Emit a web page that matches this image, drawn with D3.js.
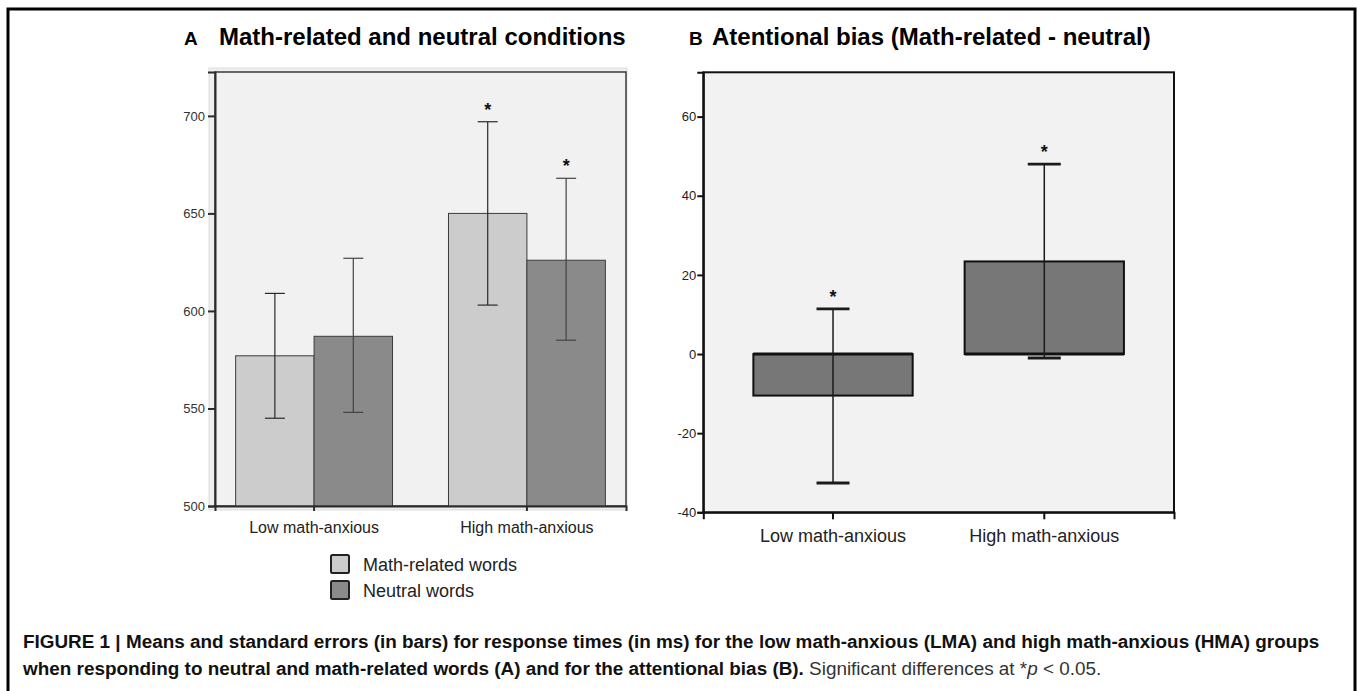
<!DOCTYPE html>
<html>
<head>
<meta charset="utf-8">
<script src="https://cdn.jsdelivr.net/npm/d3@7"></script>
<style>
  html, body { margin: 0; padding: 0; background: #fff; }
  svg { display: block; font-family: "Liberation Sans", Arial, Helvetica, sans-serif; }
</style>
</head>
<body>
<svg id="fig" width="1357" height="691"></svg>
<script>
// ---------------- DATA ----------------
const groups = ["Low math-anxious", "High math-anxious"];
const conditions = ["Math-related words", "Neutral words"];

const mathMeans = [577, 650];
const mathErrLow = [545, 603];
const mathErrHigh = [609, 697];
const mathSig = [false, true];

const neutralMeans = [587, 626];
const neutralErrLow = [548, 585];
const neutralErrHigh = [627, 668];
const neutralSig = [false, true];

const biasMeans = [-10.5, 23.4];
const biasErrLow = [-32.6, -1];
const biasErrHigh = [11.4, 48];
const biasSig = [true, true];

const yTicksA = [500, 550, 600, 650, 700];
const yTicksB = [-40, -20, 0, 20, 40, 60];

const titleA = "Math-related and neutral conditions";
const titleB = "Atentional bias (Math-related - neutral)";

// ---------------- SETUP ----------------
const svg = d3.select("#fig");
const FONT = '"Liberation Sans", Arial, Helvetica, sans-serif';
const condColor = d3.scaleOrdinal().domain(conditions).range(["#cbcccb", "#8a8a8a"]);
const plainFmt = d => String(d);

// outer figure frame
svg.append("path")
  .attr("d", "M8,700 V9 H1355 V700")
  .attr("fill", "none").attr("stroke", "#000").attr("stroke-width", 3);

// ---------------- PANEL A ----------------
const A = { left: 215, right: 626, top: 72, bottom: 506 };
const yA = d3.scaleLinear().domain([500, 722.5]).range([A.bottom, A.top]);
const xA = d3.scaleBand().domain(groups).range([A.left, A.right]).paddingInner(0.263).paddingOuter(0.097);
const xAsub = d3.scaleBand().domain(conditions).range([0, xA.bandwidth()]);

const gA = svg.append("g");
gA.append("rect").attr("x", A.left - 6).attr("y", A.top - 4)
  .attr("width", A.right - A.left + 7).attr("height", A.bottom - A.top + 8)
  .attr("fill", "#eeeeee").attr("stroke", "#dddddd").attr("stroke-width", 1);
gA.append("rect").attr("x", A.left).attr("y", A.top)
  .attr("width", A.right - A.left).attr("height", A.bottom - A.top)
  .attr("fill", "#f1f1f1").attr("stroke", "#3a3a3a").attr("stroke-width", 1.5);

const seriesA = [
  { cond: conditions[0], means: mathMeans, lo: mathErrLow, hi: mathErrHigh, sig: mathSig },
  { cond: conditions[1], means: neutralMeans, lo: neutralErrLow, hi: neutralErrHigh, sig: neutralSig }
];
const recsA = [];
seriesA.forEach(s => groups.forEach((g, i) => recsA.push({
  group: g, cond: s.cond, mean: s.means[i], lo: s.lo[i], hi: s.hi[i], sig: s.sig[i]
})));

gA.selectAll("rect.bar").data(recsA).join("rect")
  .attr("class", "bar")
  .attr("x", d => xA(d.group) + xAsub(d.cond))
  .attr("y", d => yA(d.mean))
  .attr("width", xAsub.bandwidth())
  .attr("height", d => yA(500) - yA(d.mean))
  .attr("fill", d => condColor(d.cond))
  .attr("stroke", "#3c3c3c").attr("stroke-width", 1);

const errA = gA.selectAll("g.err").data(recsA).join("g").attr("class", "err")
  .attr("stroke", d => d.cond === conditions[1] ? "#444" : "#2a2a2a").attr("stroke-width", 1.2);
const cxA = d => xA(d.group) + xAsub(d.cond) + xAsub.bandwidth() / 2;
errA.append("line").attr("x1", cxA).attr("x2", cxA).attr("y1", d => yA(d.lo)).attr("y2", d => yA(d.hi));
errA.append("line").attr("x1", d => cxA(d) - 10).attr("x2", d => cxA(d) + 10).attr("y1", d => yA(d.hi)).attr("y2", d => yA(d.hi));
errA.append("line").attr("x1", d => cxA(d) - 10).attr("x2", d => cxA(d) + 10).attr("y1", d => yA(d.lo)).attr("y2", d => yA(d.lo));

gA.selectAll("text.star").data(recsA.filter(d => d.sig)).join("text")
  .attr("class", "star")
  .attr("x", cxA).attr("y", d => yA(d.hi) - 6)
  .attr("text-anchor", "middle").attr("font-size", 18).attr("font-weight", "bold")
  .attr("fill", "#111").text("*");

const axisLA = gA.append("g").attr("transform", `translate(${A.left},0)`)
  .call(d3.axisLeft(yA).tickValues(yTicksA).tickFormat(plainFmt).tickSize(7).tickPadding(3));
axisLA.select(".domain").attr("stroke", "#2b2b2b").attr("stroke-width", 2);
axisLA.selectAll(".tick line").attr("stroke", "#2b2b2b").attr("stroke-width", 2);
axisLA.selectAll(".tick text").attr("font-size", 13).attr("font-family", FONT).attr("fill", "#333");

const axisBA = gA.append("g").attr("transform", `translate(0,${A.bottom})`)
  .call(d3.axisBottom(xA).tickSize(5).tickPadding(11));
axisBA.select(".domain").attr("stroke", "#2b2b2b").attr("stroke-width", 2);
axisBA.selectAll(".tick line").attr("stroke", "#2b2b2b").attr("stroke-width", 2);
axisBA.selectAll(".tick text").attr("font-size", 16).attr("font-family", FONT).attr("fill", "#222");

svg.append("text").attr("x", 184).attr("y", 45).attr("font-size", 19).attr("font-weight", "bold").text("A");
svg.append("text").attr("x", 219).attr("y", 45).attr("font-size", 24).attr("font-weight", "bold").text(titleA);

// legend
const leg = svg.append("g").attr("transform", "translate(330,554)");
conditions.forEach((c, i) => {
  const row = leg.append("g").attr("transform", `translate(0,${i * 26})`);
  row.append("rect").attr("x", 1).attr("y", 1).attr("width", 18).attr("height", 18).attr("rx", 1.5)
    .attr("fill", condColor(c)).attr("stroke", "#222").attr("stroke-width", 2);
  row.append("text").attr("x", 33).attr("y", 16.5).attr("font-size", 18).attr("fill", "#222").text(c);
});

// ---------------- PANEL B ----------------
const B = { left: 703.3, right: 1174, top: 72.3, bottom: 512.3 };
const yB = d3.scaleLinear().domain([-40, 71.2]).range([B.bottom, B.top]);
const xB = d3.scaleBand().domain(groups).range([B.left, B.right]).paddingInner(0.246).paddingOuter(0.237);

const gB = svg.append("g");
gB.append("rect").attr("x", B.left).attr("y", B.top)
  .attr("width", B.right - B.left).attr("height", B.bottom - B.top)
  .attr("fill", "#f2f2f2").attr("stroke", "#111").attr("stroke-width", 2);

const recsB = groups.map((g, i) => ({ group: g, mean: biasMeans[i], lo: biasErrLow[i], hi: biasErrHigh[i], sig: biasSig[i] }));
gB.selectAll("rect.bar").data(recsB).join("rect")
  .attr("class", "bar")
  .attr("x", d => xB(d.group))
  .attr("y", d => yB(Math.max(0, d.mean)))
  .attr("width", xB.bandwidth())
  .attr("height", d => Math.abs(yB(d.mean) - yB(0)))
  .attr("fill", "#777777").attr("stroke", "#111").attr("stroke-width", 2);
gB.selectAll("line.zero").data(recsB).join("line").attr("class", "zero")
  .attr("x1", d => xB(d.group)).attr("x2", d => xB(d.group) + xB.bandwidth())
  .attr("y1", yB(0)).attr("y2", yB(0)).attr("stroke", "#111").attr("stroke-width", 3);

const cxB = d => xB(d.group) + xB.bandwidth() / 2;
const errB = gB.selectAll("g.err").data(recsB).join("g").attr("class", "err").attr("stroke", "#1a1a1a");
errB.append("line").attr("x1", cxB).attr("x2", cxB).attr("y1", d => yB(d.lo)).attr("y2", d => yB(d.hi)).attr("stroke-width", 1.5);
errB.append("line").attr("x1", d => cxB(d) - 16.5).attr("x2", d => cxB(d) + 16.5).attr("y1", d => yB(d.hi)).attr("y2", d => yB(d.hi)).attr("stroke-width", 2.8);
errB.append("line").attr("x1", d => cxB(d) - 16.5).attr("x2", d => cxB(d) + 16.5).attr("y1", d => yB(d.lo)).attr("y2", d => yB(d.lo)).attr("stroke-width", 2.8);

gB.selectAll("text.star").data(recsB.filter(d => d.sig)).join("text")
  .attr("class", "star")
  .attr("x", cxB).attr("y", d => yB(d.hi) - 6)
  .attr("text-anchor", "middle").attr("font-size", 18).attr("font-weight", "bold")
  .attr("fill", "#111").text("*");

const axisLB = gB.append("g").attr("transform", `translate(${B.left},0)`)
  .call(d3.axisLeft(yB).tickValues(yTicksB).tickFormat(plainFmt).tickSize(6).tickPadding(1));
axisLB.select(".domain").attr("stroke", "#111").attr("stroke-width", 2);
axisLB.selectAll(".tick line").attr("stroke", "#111").attr("stroke-width", 2);
axisLB.selectAll(".tick text").attr("font-size", 13).attr("font-family", FONT).attr("fill", "#222");

const axisBB = gB.append("g").attr("transform", `translate(0,${B.bottom})`)
  .call(d3.axisBottom(xB).tickSize(7).tickPadding(10));
axisBB.select(".domain").attr("stroke", "#111").attr("stroke-width", 2);
axisBB.selectAll(".tick line").attr("stroke", "#111").attr("stroke-width", 2);
axisBB.selectAll(".tick text").attr("font-size", 18).attr("font-family", FONT).attr("fill", "#222");

svg.append("text").attr("x", 689).attr("y", 45).attr("font-size", 19).attr("font-weight", "bold").text("B");
svg.append("text").attr("x", 712).attr("y", 45).attr("font-size", 24).attr("font-weight", "bold").text(titleB);

// ---------------- CAPTION ----------------
const cap = svg.append("g").attr("font-size", 18.9).attr("fill", "#111");
cap.append("text").attr("x", 23).attr("y", 648).attr("font-weight", "bold")
  .text("FIGURE 1 | Means and standard errors (in bars) for response times (in ms) for the low math-anxious (LMA) and high math-anxious (HMA) groups");
const l2 = cap.append("text").attr("x", 23).attr("y", 675);
l2.append("tspan").attr("font-weight", "bold")
  .text("when responding to neutral and math-related words (A) and for the attentional bias (B).");
l2.append("tspan").attr("fill", "#333").text(" Significant differences at *");
l2.append("tspan").attr("fill", "#333").attr("font-style", "italic").text("p");
l2.append("tspan").attr("fill", "#333").text(" < 0.05.");
</script>
</body>
</html>
